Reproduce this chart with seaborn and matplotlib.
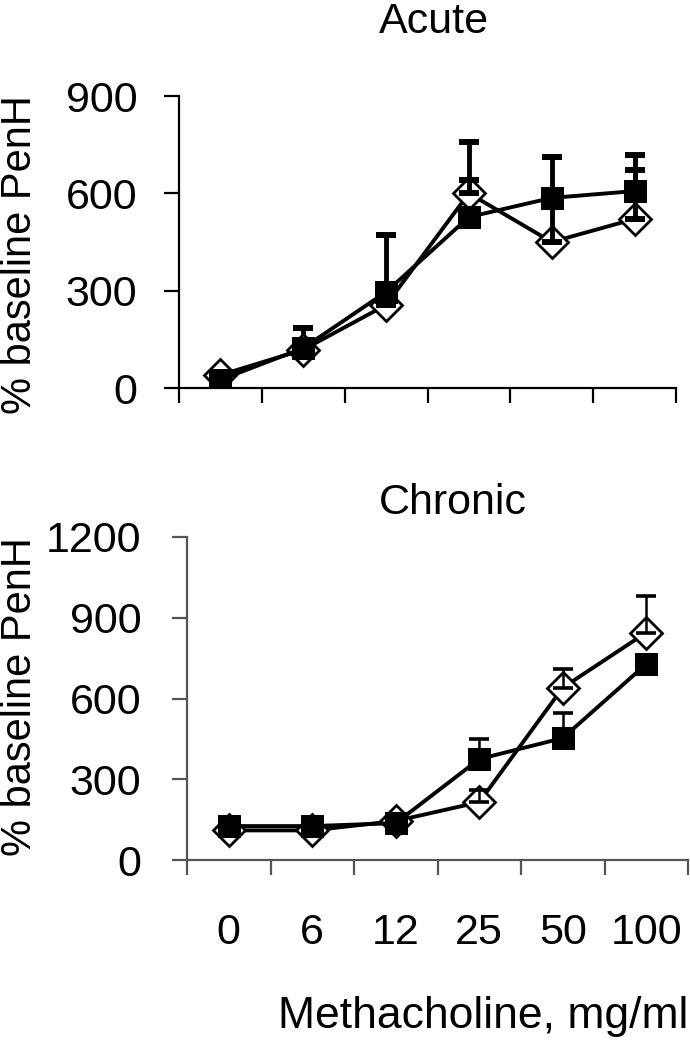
import numpy as np
import pandas as pd
import matplotlib
matplotlib.use('Agg')
import matplotlib.pyplot as plt
import seaborn as sns

doses = ['0', '6', '12', '25', '50', '100']

acute_sq = [25, 123, 296, 527, 586, 607]
acute_sq_err = [0, 62, 176, 231, 126, 111]
acute_dm = [40, 118, 256, 600, 450, 521]
acute_dm_err = [0, 0, 0, 41, 150, 151]

chronic_sq = [126, 126, 137, 375, 453, 728]
chronic_sq_err = [0, 0, 0, 75, 93, 0]
chronic_dm = [110, 110, 145, 215, 640, 845]
chronic_dm_err = [0, 0, 0, 45, 70, 136]

sns.set_theme(style='white')
plt.rcParams['font.family'] = ['Liberation Sans', 'DejaVu Sans']
plt.rcParams['text.color'] = 'black'
plt.rcParams['xtick.color'] = 'black'
plt.rcParams['ytick.color'] = 'black'

FS = 31

fig = plt.figure(figsize=(6.9, 10.5), dpi=100)
ax1 = fig.add_axes([179 / 690, 1 - 388 / 1050, 497 / 690, 292 / 1050])
ax2 = fig.add_axes([187 / 690, 1 - 860 / 1050, 501 / 690, 323 / 1050])

pos = np.arange(len(doses))


def draw_panel(ax, sq, sq_err, dm, dm_err, ymax, err_lw, cap, spine_col, ypad):
    df = pd.DataFrame({'pos': np.concatenate([pos, pos]),
                       'val': sq + dm,
                       'grp': ['sq'] * 6 + ['dm'] * 6})
    ax.errorbar(pos, sq, yerr=[np.zeros(6), sq_err], fmt='none', ecolor='black',
                elinewidth=err_lw, capsize=cap, capthick=err_lw + 0.8, zorder=1)
    sns.lineplot(data=df[df.grp == 'dm'], x='pos', y='val', ax=ax, color='black',
                 lw=2.8, marker='D', markersize=16, markerfacecolor='white',
                 markeredgecolor='black', markeredgewidth=2, zorder=2)
    ax.errorbar(pos, dm, yerr=[np.zeros(6), dm_err], fmt='none', ecolor='black',
                elinewidth=err_lw, capsize=cap, capthick=err_lw + 0.8, zorder=2.5)
    sns.lineplot(data=df[df.grp == 'sq'], x='pos', y='val', ax=ax, color='black',
                 lw=2.8, marker='s', markersize=16.5, markerfacecolor='black',
                 markeredgecolor='black', zorder=3)
    ax.set_xlim(-0.5, 5.5)
    ax.set_ylim(0, ymax)
    ax.set_yticks(np.arange(0, ymax + 1, 300))
    ax.set_xticks(np.arange(-0.5, 6, 1))
    ax.set_xticklabels([])
    ax.set_xlabel('')
    ax.set_ylabel('')
    for s in ['top', 'right']:
        ax.spines[s].set_visible(False)
    for s in ['left', 'bottom']:
        ax.spines[s].set_color(spine_col)
        ax.spines[s].set_linewidth(1.6)
    ax.tick_params(axis='both', which='major', direction='out', length=11,
                   width=1.6, color=spine_col, left=True, bottom=True,
                   labelsize=FS, labelcolor='black', pad=ypad)
    ax.patch.set_alpha(0)


draw_panel(ax1, acute_sq, acute_sq_err, acute_dm, acute_dm_err, 900, 3.5, 7, 'black', 19)
draw_panel(ax2, chronic_sq, chronic_sq_err, chronic_dm, chronic_dm_err, 1200, 1.8, 7.5, '#555555', 22)

# dose labels under the bottom panel at category centres
ax2.set_xticks(pos, minor=True)
ax2.set_xticklabels(doses, minor=True)
ax2.tick_params(axis='x', which='minor', length=0, labelsize=FS, labelcolor='black', pad=38)

fig.text(379 / 690, 1 - 33 / 1050, 'Acute', ha='left', va='baseline', fontsize=FS)
fig.text(379 / 690, 1 - 514 / 1050, 'Chronic', ha='left', va='baseline', fontsize=FS)
fig.text(20 / 690, 1 - 255 / 1050, '% baseline PenH', rotation=90, ha='center', va='center', fontsize=30)
fig.text(20 / 690, 1 - 697 / 1050, '% baseline PenH', rotation=90, ha='center', va='center', fontsize=30)
fig.text(688 / 690, 1 - 1028 / 1050, 'Methacholine, mg/ml', ha='right', va='baseline', fontsize=FS + 1)

fig.savefig('out.png', dpi=100)
